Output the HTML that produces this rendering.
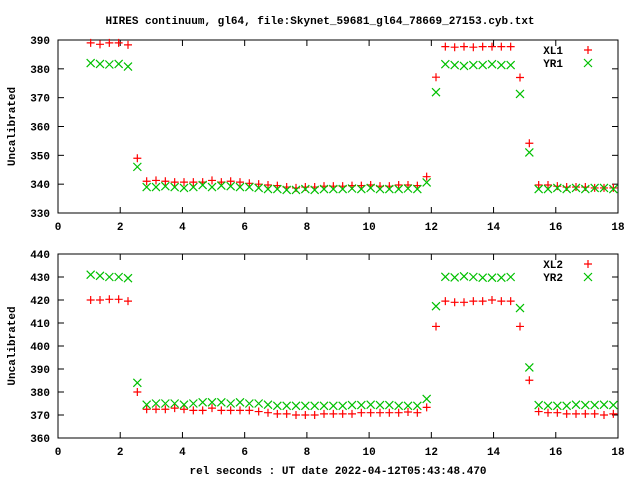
<!DOCTYPE html>
<html><head><meta charset="utf-8"><style>
body{margin:0;background:#fff}
svg{display:block}
text{font-family:"Liberation Mono",monospace;font-weight:bold;font-size:11px;fill:#000}
</style></head><body>
<svg id="c" width="640" height="480" viewBox="0 0 640 480" xmlns="http://www.w3.org/2000/svg">
<text x="320" y="24" text-anchor="middle">HIRES continuum, gl64, file:Skynet_59681_gl64_78669_27153.cyb.txt</text>
<text x="338" y="474" text-anchor="middle">rel seconds : UT date 2022-04-12T05:43:48.470</text>
</svg>
<script>
const times=[1.05,1.35,1.65,1.95,2.25,2.55,2.85,3.15,3.45,3.75,4.05,4.35,4.65,4.95,5.25,5.55,5.85,6.15,6.45,6.75,7.05,7.35,7.65,7.95,8.25,8.55,8.85,9.15,9.45,9.75,10.05,10.35,10.65,10.95,11.25,11.55,11.85,12.15,12.45,12.75,13.05,13.35,13.65,13.95,14.25,14.55,14.85,15.15,15.45,15.75,16.05,16.35,16.65,16.95,17.25,17.55,17.85];
const xl1=[389,388.5,389,389,388.3,349,341,341.3,341,340.7,340.7,340.7,340.7,341.3,340.7,341,340.7,340.3,340,339.7,339.5,339,338.7,339,339,339.3,339.3,339.3,339.5,339.5,339.7,339.3,339.3,339.7,339.7,339.5,342.6,377.1,387.7,387.5,387.7,387.5,387.7,387.7,387.7,387.7,377,354.2,339.7,339.7,339.3,339,339,339,338.7,338.7,338.7];
const yr1=[382,381.7,381.5,381.7,380.8,346,339,339,339.3,339,338.7,339,339.7,339,339.5,339.3,339,339,338.7,338.3,338.3,338,338,338.3,338,338.3,338.3,338.3,338.5,338.3,338.7,338.3,338.3,338.3,338.5,338.3,340.6,371.9,381.6,381.3,381,381.3,381.3,381.6,381.3,381.3,371.3,351,338.3,338.3,338.7,338.3,338.7,338.3,338.7,338.7,338.3];
const xl2=[420,420,420.3,420.3,419.5,380,372.5,372.5,372.5,373,372.5,372,372,373,372,372,372,372,371.5,371,370.5,370.5,370,370,370,370.5,370.5,370.5,370.5,371,371,371,371,371,371.3,371,373.3,408.5,419.5,419,419,419.5,419.5,420,419.5,419.5,408.5,385.1,371.5,371,371,370.5,370.5,370.5,370.5,370,370.5];
const yr2=[431,430.5,430,430,429.5,384,374.5,375,375,375,374.5,375,375.5,375.5,375.5,375,375.5,375,375,374.5,374,374,374,374,374,374,374,374,374.3,374.3,374.5,374.3,374.3,374,374,374,377,417.3,430.1,429.8,430.3,430,429.7,429.7,429.7,430,416.5,390.7,374.3,374,374,374,374.5,374.3,374.3,374.5,374.3];
const xTicks=[0,2,4,6,8,10,12,14,16,18];
const yTicks1=[330,340,350,360,370,380,390];
const yTicks2=[360,370,380,390,400,410,420,430,440];
const svg=document.getElementById('c');
const NS='http://www.w3.org/2000/svg';
function mk(tag,attrs,parent){const e=document.createElementNS(NS,tag);for(const k in attrs)e.setAttribute(k,attrs[k]);(parent||svg).appendChild(e);return e;}
const L=58,R=618;
function panel(idx,top,bot,ymin,ymax,yTicks,s1,s2,n1,n2){
  const g=mk('g',{});
  
  
  const xs=v=>L+(v-0)/(18-0)*(R-L);
  const ys=v=>bot-(v-ymin)/(ymax-ymin)*(bot-top);
  const fr=mk('rect',{x:L,y:top,width:R-L,height:bot-top,fill:'none',stroke:'#000','stroke-width':1},g);
  
  
  xTicks.forEach(t=>{const x=xs(t);
    mk('line',{x1:x,y1:bot,x2:x,y2:bot-6,stroke:'#000'},g);
    mk('line',{x1:x,y1:top,x2:x,y2:top+6,stroke:'#000'},g);
    const tx=mk('text',{x:x,y:bot+17,'text-anchor':'middle'},g);tx.textContent=t;
    
    
  });
  yTicks.forEach(t=>{const y=ys(t);
    mk('line',{x1:L,y1:y,x2:L+6,y2:y,stroke:'#000'},g);
    mk('line',{x1:R,y1:y,x2:R-6,y2:y,stroke:'#000'},g);
    const tx=mk('text',{x:50,y:y+4,'text-anchor':'end'},g);tx.textContent=t;
    
    
  });
  const yt=mk('text',{x:0,y:0,'text-anchor':'middle',transform:`translate(15,${(top+bot)/2}) rotate(-90)`},g);
  yt.textContent='Uncalibrated';
  
  
  function plus(x,y,c,p){const e=mk('path',{d:`M${x-4},${y}h8M${x},${y-4}v8`,stroke:c,'stroke-width':1.2,fill:'none'},p);return e;}
  function cross(x,y,c,p){const e=mk('path',{d:`M${x-4},${y-4}l8,8M${x-4},${y+4}l8,-8`,stroke:c,'stroke-width':1.2,fill:'none'},p);return e;}
  const g1=mk('g',{},g);
  
  
  const g2=mk('g',{},g);
  
  
  times.forEach((t,i)=>{
    const a=plus(xs(t),ys(s1[i]),'#ff0000',g1);
    
    
    const b=cross(xs(t),ys(s2[i]),'#00c000',g2);
    
    
  });
  const lg=mk('g',{},g);
  
  
  const t1=mk('text',{x:563,y:top+14,'text-anchor':'end'},lg);t1.textContent=n1;
  
  
  plus(588,top+10,'#ff0000',lg);
  const t2=mk('text',{x:563,y:top+27,'text-anchor':'end'},lg);t2.textContent=n2;
  
  
  cross(588,top+23,'#00c000',lg);
}
panel(1,40,213,330,390,yTicks1,xl1,yr1,'XL1','YR1');
panel(2,254,438,360,440,yTicks2,xl2,yr2,'XL2','YR2');
</script>
</body></html>
